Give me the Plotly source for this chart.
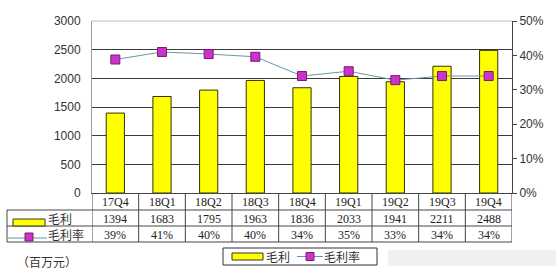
import plotly.graph_objects as go

categories = ["17Q4", "18Q1", "18Q2", "18Q3", "18Q4", "19Q1", "19Q2", "19Q3", "19Q4"]
gross_profit = [1394, 1683, 1795, 1963, 1836, 2033, 1941, 2211, 2488]
margin_pct = [38.8, 41.0, 40.4, 39.6, 34.0, 35.4, 32.8, 34.0, 34.0]
margin_labels = ["39%", "41%", "40%", "40%", "34%", "35%", "33%", "34%", "34%"]
left_ticks = [0, 500, 1000, 1500, 2000, 2500, 3000]
right_ticks = [0, 10, 20, 30, 40, 50]
unit_label = "（百万元）"
name_bar = "毛利"
name_line = "毛利率"

W, H = 560, 271
L, R, T, B = 92, 48, 21, 78
PW, PH = W - L - R, H - T - B

def py(p):  # pixel y -> paper y
    return (H - B - p) / PH

def px(p):  # pixel x -> paper x
    return (p - L) / PW

YELLOW = "#ffff00"
MAG = "#cc33cc"
LINEC = "#6f93a8"
NUMFONT = dict(family="Liberation Serif, DejaVu Serif", size=12, color="#222")
CJKFONT = dict(family="Noto Sans CJK SC", size=12, color="#333")

fig = go.Figure()
fig.add_trace(go.Bar(x=categories, y=gross_profit, name=name_bar, width=0.39,
                     marker=dict(color=YELLOW, line=dict(color="#333300", width=1)),
                     yaxis="y"))
fig.add_trace(go.Scatter(x=categories, y=margin_pct, name=name_line, mode="lines+markers",
                         line=dict(color=LINEC, width=1),
                         marker=dict(symbol="square", size=9, color=MAG,
                                     line=dict(color="#7a1a6a", width=1)),
                         yaxis="y2"))

shapes = []
annotations = []
ln = dict(color="#444", width=1)

# table horizontal lines
for yy, x0 in [(210, 7), (226, 7), (242, 7)]:
    shapes.append(dict(type="line", xref="paper", yref="paper", x0=px(x0), x1=1,
                       y0=py(yy), y1=py(yy), line=ln))
# table vertical lines
shapes.append(dict(type="line", xref="paper", yref="paper", x0=px(7), x1=px(7),
                   y0=py(210), y1=py(242), line=ln))
for i in range(len(categories) + 1):
    shapes.append(dict(type="line", xref="x", yref="paper", x0=i - 0.5, x1=i - 0.5,
                       y0=py(193), y1=py(242), line=ln))

# table text
for i, c in enumerate(categories):
    annotations.append(dict(x=c, xref="x", y=py(201.5), yref="paper", text=c,
                            showarrow=False, font=NUMFONT, yanchor="middle"))
    annotations.append(dict(x=c, xref="x", y=py(218.5), yref="paper", text=str(gross_profit[i]),
                            showarrow=False, font=NUMFONT, yanchor="middle"))
    annotations.append(dict(x=c, xref="x", y=py(234.5), yref="paper", text=margin_labels[i],
                            showarrow=False, font=NUMFONT, yanchor="middle"))

# row header keys
shapes.append(dict(type="rect", xref="paper", yref="paper", x0=px(13), x1=px(45),
                   y0=py(226), y1=py(219), fillcolor=YELLOW, line=dict(color="#333", width=1)))
annotations.append(dict(x=px(46), xref="paper", y=py(218), yref="paper", text=name_bar,
                        showarrow=False, font=CJKFONT, xanchor="left", yanchor="middle"))
shapes.append(dict(type="line", xref="paper", yref="paper", x0=px(8), x1=px(47),
                   y0=py(238), y1=py(238), line=dict(color=LINEC, width=1)))
shapes.append(dict(type="rect", xref="paper", yref="paper", x0=px(25), x1=px(33),
                   y0=py(241), y1=py(233), fillcolor=MAG, line=dict(color="#7a1a6a", width=1)))
annotations.append(dict(x=px(46), xref="paper", y=py(234), yref="paper", text=name_line,
                        showarrow=False, font=CJKFONT, xanchor="left", yanchor="middle"))

# unit label
annotations.append(dict(x=px(15), xref="paper", y=py(261), yref="paper", text=unit_label,
                        showarrow=False, font=CJKFONT, xanchor="left", yanchor="middle"))

# bottom legend box
shapes.append(dict(type="rect", xref="paper", yref="paper", x0=px(223), x1=px(377),
                   y0=py(265), y1=py(248), fillcolor="white", line=dict(color="#333", width=1)))
shapes.append(dict(type="rect", xref="paper", yref="paper", x0=px(232), x1=px(263),
                   y0=py(260), y1=py(253), fillcolor=YELLOW, line=dict(color="#333", width=1)))
annotations.append(dict(x=px(264), xref="paper", y=py(256), yref="paper", text=name_bar,
                        showarrow=False, font=CJKFONT, xanchor="left", yanchor="middle"))
shapes.append(dict(type="line", xref="paper", yref="paper", x0=px(297), x1=px(323),
                   y0=py(256.5), y1=py(256.5), line=dict(color=LINEC, width=1)))
shapes.append(dict(type="rect", xref="paper", yref="paper", x0=px(306), x1=px(314),
                   y0=py(260.5), y1=py(252.5), fillcolor=MAG, line=dict(color="#7a1a6a", width=1)))
annotations.append(dict(x=px(322), xref="paper", y=py(256), yref="paper", text=name_line,
                        showarrow=False, font=CJKFONT, xanchor="left", yanchor="middle"))

# blurred watermark area
shapes.append(dict(type="rect", xref="paper", yref="paper", x0=px(388), x1=px(556),
                   y0=py(266), y1=py(250), fillcolor="#e9e9e9", opacity=0.7,
                   line=dict(width=0), layer="below"))

# plot top border (light)
shapes.append(dict(type="line", xref="paper", yref="paper", x0=0, x1=1, y0=1, y1=1,
                   line=dict(color="#bbbbbb", width=1)))

fig.update_layout(
    width=W, height=H, margin=dict(l=L, r=R, t=T, b=B),
    paper_bgcolor="white", plot_bgcolor="white",
    showlegend=False, bargap=0.6,
    xaxis=dict(type="category", range=[-0.5, len(categories) - 0.5], showticklabels=False,
               showgrid=False, showline=True, linecolor="#444", linewidth=1, ticks="",
               zeroline=False),
    yaxis=dict(range=[0, 3000], tickvals=left_ticks, showgrid=True, gridcolor="#3a3a3a",
               gridwidth=1, showline=True, linecolor="#999", linewidth=1, ticks="",
               tickfont=dict(family="Liberation Sans, Arial", size=12, color="#333"),
               zeroline=False, ticklabelstandoff=8),
    yaxis2=dict(range=[0, 50], tickvals=right_ticks, ticktext=[f"{v}%" for v in right_ticks],
                overlaying="y", side="right", showgrid=False, showline=True,
                linecolor="#444", linewidth=1, ticks="outside", ticklen=4, tickcolor="#444",
                tickfont=dict(family="Liberation Sans, Arial", size=12, color="#333"),
                zeroline=False),
    shapes=shapes, annotations=annotations,
)

fig.write_html("out.html")
